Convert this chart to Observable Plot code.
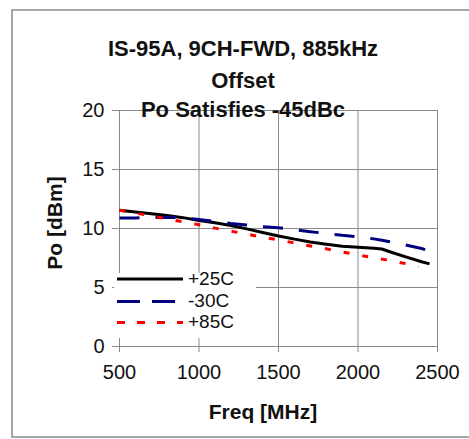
<!DOCTYPE html>
<html>
<head>
<meta charset="utf-8">
<script src="https://cdn.jsdelivr.net/npm/d3@7"></script>
<script src="https://cdn.jsdelivr.net/npm/@observablehq/plot@0.6"></script>
<style>
  html, body { margin: 0; padding: 0; background: #fff; }
  #chart { position: relative; width: 469px; height: 439px; }
  svg { font-family: "Liberation Sans", Arial, sans-serif; }
</style>
</head>
<body>
<div id="chart"></div>
<script>
// ---- data ----
const titleLines = ["IS-95A, 9CH-FWD, 885kHz", "Offset", "Po Satisfies -45dBc"];
const xLabel = "Freq [MHz]";
const yLabel = "Po [dBm]";
const xTicks = [500, 1000, 1500, 2000, 2500];
const yTicks = [0, 5, 10, 15, 20];
const seriesNames = ["+25C", "-30C", "+85C"];
const seriesColors = ["#000000", "#000080", "#ff0000"];

const freq = [500, 600, 700, 800, 900, 1000, 1100, 1200, 1300, 1400, 1500, 1600, 1700, 1800, 1900, 2000, 2100, 2150, 2200, 2300, 2400, 2450];
const p25 = [11.55, 11.4, 11.25, 11.1, 10.92, 10.68, 10.48, 10.25, 9.97, 9.66, 9.36, 9.1, 8.86, 8.67, 8.5, 8.42, 8.33, 8.26, 8.03, 7.6, 7.18, 7.0];
const m30 = [10.9, 10.9, 10.93, 10.96, 10.9, 10.76, 10.6, 10.43, 10.3, 10.16, 10.06, 9.9, 9.73, 9.58, 9.42, 9.3, 9.12, 9.0, 8.88, 8.6, 8.3, 8.1];
const freq85 = [500, 600, 700, 800, 900, 1000, 1100, 1200, 1300, 1400, 1500, 1600, 1700, 1800, 1900, 2000, 2100, 2200, 2300, 2380];
const p85 = [11.55, 11.3, 11.07, 10.82, 10.56, 10.32, 10.03, 9.78, 9.52, 9.26, 9.03, 8.78, 8.52, 8.28, 8.02, 7.75, 7.52, 7.3, 7.02, 6.75];

const rows = [];
freq.forEach((f, i) => rows.push({series: seriesNames[0], f, v: p25[i]}));
freq.forEach((f, i) => rows.push({series: seriesNames[1], f, v: m30[i]}));
freq85.forEach((f, i) => rows.push({series: seriesNames[2], f, v: p85[i]}));

const gridColor = "#8a8a8a";
const dashes = {"+25C": null, "-30C": "20,16", "+85C": "6,13"};

const plot = Plot.plot({
  width: 469,
  height: 439,
  marginLeft: 119,
  marginRight: 32,
  marginTop: 110,
  marginBottom: 93,
  style: {fontFamily: "'Liberation Sans', Arial, sans-serif", background: "transparent"},
  x: {domain: [500, 2500]},
  y: {domain: [0, 20]},
  marks: [
    Plot.gridX(xTicks, {stroke: gridColor, strokeOpacity: 1, strokeWidth: 1}),
    Plot.gridY(yTicks, {stroke: gridColor, strokeOpacity: 1, strokeWidth: 1}),
    Plot.axisX(xTicks, {tickSize: 6, tickPadding: 12, fontSize: 20, stroke: gridColor, fill: "#111", label: null, tickFormat: d => String(d)}),
    Plot.axisY(yTicks, {tickSize: 7, tickPadding: 8, fontSize: 20, stroke: gridColor, fill: "#111", label: null}),
    ...seriesNames.map((s, k) => Plot.line(rows.filter(d => d.series === s), {
      x: "f", y: "v", stroke: seriesColors[k], strokeWidth: 3,
      strokeDasharray: dashes[s], curve: "linear", strokeLinecap: "butt"
    }))
  ]
});
document.getElementById("chart").appendChild(plot);

const svg = d3.select(plot);
// outer frame
svg.insert("rect", ":first-child")
  .attr("x", 12).attr("y", 10).attr("width", 470).attr("height", 427)
  .attr("fill", "#fff").attr("stroke", "#8a8a8a").attr("stroke-width", 1.5);

// titles
const titleY = [48, 80, 109];
titleLines.forEach((t, i) => {
  svg.append("text").attr("x", 243).attr("y", titleY[i])
    .attr("text-anchor", "middle").attr("dominant-baseline", "central")
    .attr("font-size", 22).attr("font-weight", "bold").attr("fill", "#111")
    .text(t);
});

// axis labels
svg.append("text").attr("x", 263).attr("y", 411)
  .attr("text-anchor", "middle").attr("dominant-baseline", "central")
  .attr("font-size", 21).attr("font-weight", "bold").attr("fill", "#111").text(xLabel);
svg.append("text").attr("transform", "translate(54,223) rotate(-90)")
  .attr("text-anchor", "middle").attr("dominant-baseline", "central")
  .attr("font-size", 21).attr("font-weight", "bold").attr("fill", "#111").text(yLabel);

// legend
const lg = svg.append("g");
lg.append("rect").attr("x", 114).attr("y", 273).attr("width", 142).attr("height", 65).attr("fill", "#fff");
const legendLineY = [279, 301.5, 322.5];
const legendTextY = [278, 300, 321];
seriesNames.forEach((s, k) => {
  lg.append("line").attr("x1", 117).attr("x2", 183).attr("y1", legendLineY[k]).attr("y2", legendLineY[k])
    .attr("stroke", seriesColors[k]).attr("stroke-width", 3)
    .attr("stroke-dasharray", k === 1 ? "23,12" : k === 2 ? "8,12" : null);
  lg.append("text").attr("x", 188).attr("y", legendTextY[k])
    .attr("text-anchor", "start")
    .attr("dominant-baseline", "central").attr("font-size", 19).attr("fill", "#111").text(s);
});
</script>
</body>
</html>
